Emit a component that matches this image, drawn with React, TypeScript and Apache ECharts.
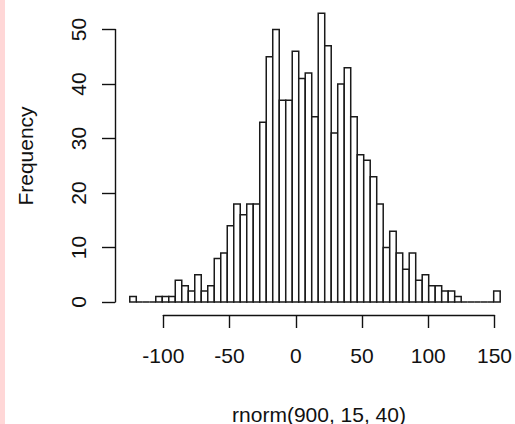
import React, { useEffect, useRef } from "react";
import * as echarts from "echarts";

// Histogram of rnorm(900, 15, 40): bin edges (width 5) and counts
const breaks = [
  -125, -120, -115, -110, -105, -100, -95, -90, -85, -80, -75, -70, -65, -60, -55, -50,
  -45, -40, -35, -30, -25, -20, -15, -10, -5, 0, 5, 10, 15, 20, 25, 30, 35, 40, 45, 50,
  55, 60, 65, 70, 75, 80, 85, 90, 95, 100, 105, 110, 115, 120, 125, 130, 135, 140, 145,
  150, 155, 160,
];
const counts = [
  1, 0, 0, 0, 1, 1, 1, 4, 3, 2, 5, 2, 3, 8, 9, 14, 18, 16, 18, 18,
  33, 45, 50, 37, 37, 46, 41, 42, 34, 53, 47, 31, 40, 43, 34, 27, 26, 23, 18,
  10, 13, 9, 6, 9, 4, 5, 3, 3, 2, 2, 1, 0, 0, 0, 0, 0, 2,
];
const xTicks = [-100, -50, 0, 50, 100, 150];
const yTicks = [0, 10, 20, 30, 40, 50];
const xTitle = "rnorm(900, 15, 40)";
const yTitle = "Frequency";

const FONT = "'Liberation Sans', Arial, sans-serif";
const INK = "#111";

export default function App() {
  const ref = useRef<HTMLDivElement>(null);
  useEffect(() => {
    if (!ref.current) return;
    const chart = echarts.init(ref.current, undefined, { renderer: "svg" });
    const histData = counts.map((c, i) => [breaks[i], breaks[i + 1], c]);
    const xr = breaks[breaks.length - 1] - breaks[0];
    const xMin = breaks[0] - 0.04 * xr;
    const xMax = breaks[breaks.length - 1] + 0.04 * xr;
    const yTop = Math.max(...counts);
    const yMin = -0.04 * yTop;
    const yMax = yTop * 1.04;
    const pxX = 1.328;
    const pxY = 5.45;
    const left0 = 163.3 - (xTicks[0] - xMin) * pxX;
    const top0 = 302 - yMax * pxY;
    chart.setOption({
      animation: false,
      backgroundColor: "#ffffff",
      grid: [
        { left: left0, top: top0, width: (xMax - xMin) * pxX, height: (yMax - yMin) * pxY },
        { left: 115, top: 302 - 50 * pxY, width: 10, height: 50 * pxY },
        { left: 163.3, top: 0, width: 250 * pxX, height: 315 },
      ],
      xAxis: [
        { gridIndex: 0, type: "value", min: xMin, max: xMax, show: false },
        { gridIndex: 1, type: "value", min: 0, max: 1, show: false },
        {
          gridIndex: 2,
          type: "value",
          min: xTicks[0],
          max: xTicks[xTicks.length - 1],
          interval: 50,
          position: "bottom",
          axisLine: { show: true, lineStyle: { color: INK, width: 1.4 } },
          axisTick: { show: true, length: 13, lineStyle: { color: INK, width: 1.4 } },
          axisLabel: { show: true, margin: 30, fontSize: 21, fontFamily: FONT, color: INK },
          splitLine: { show: false },
        },
      ],
      yAxis: [
        { gridIndex: 0, type: "value", min: yMin, max: yMax, show: false },
        {
          gridIndex: 1,
          type: "value",
          min: yTicks[0],
          max: yTicks[yTicks.length - 1],
          interval: 10,
          position: "left",
          axisLine: { show: true, lineStyle: { color: INK, width: 1.4 } },
          axisTick: { show: true, length: 13, lineStyle: { color: INK, width: 1.4 } },
          axisLabel: { show: true, rotate: 90, margin: 26, fontSize: 21, fontFamily: FONT, color: INK },
          splitLine: { show: false },
        },
        { gridIndex: 2, type: "value", show: false },
      ],
      series: [
        {
          type: "custom",
          xAxisIndex: 0,
          yAxisIndex: 0,
          data: histData,
          renderItem: (params: any, api: any) => {
            const a = api.coord([api.value(0), 0]);
            const b = api.coord([api.value(1), api.value(2)]);
            return {
              type: "polygon",
              shape: { points: [[a[0], a[1]], [a[0], b[1]], [b[0], b[1]], [b[0], a[1]]] },
              style: { fill: "#ffffff", stroke: "#1a1a1a", lineWidth: 1.5 },
            };
          },
        },
      ],
      graphic: [
        { type: "rect", left: 0, top: 0, shape: { x: 0, y: 0, width: 5, height: 424 }, style: { fill: "#ffd7d7" } },
        {
          type: "text",
          x: 25,
          y: 156,
          rotation: Math.PI / 2,
          style: {
            text: yTitle,
            font: `21px ${FONT}`,
            fill: INK,
            textAlign: "center",
            textVerticalAlign: "middle",
            align: "center",
            verticalAlign: "middle",
          },
        },
        {
          type: "text",
          x: 319,
          y: 414,
          style: {
            text: xTitle,
            font: `21px ${FONT}`,
            fill: INK,
            textAlign: "center",
            textVerticalAlign: "middle",
            align: "center",
            verticalAlign: "middle",
          },
        },
      ],
    });
    return () => chart.dispose();
  }, []);
  return (
    <div
      ref={ref}
      style={{ position: "fixed", left: 0, top: 0, width: 515, height: 424, background: "#fff" }}
    />
  );
}
